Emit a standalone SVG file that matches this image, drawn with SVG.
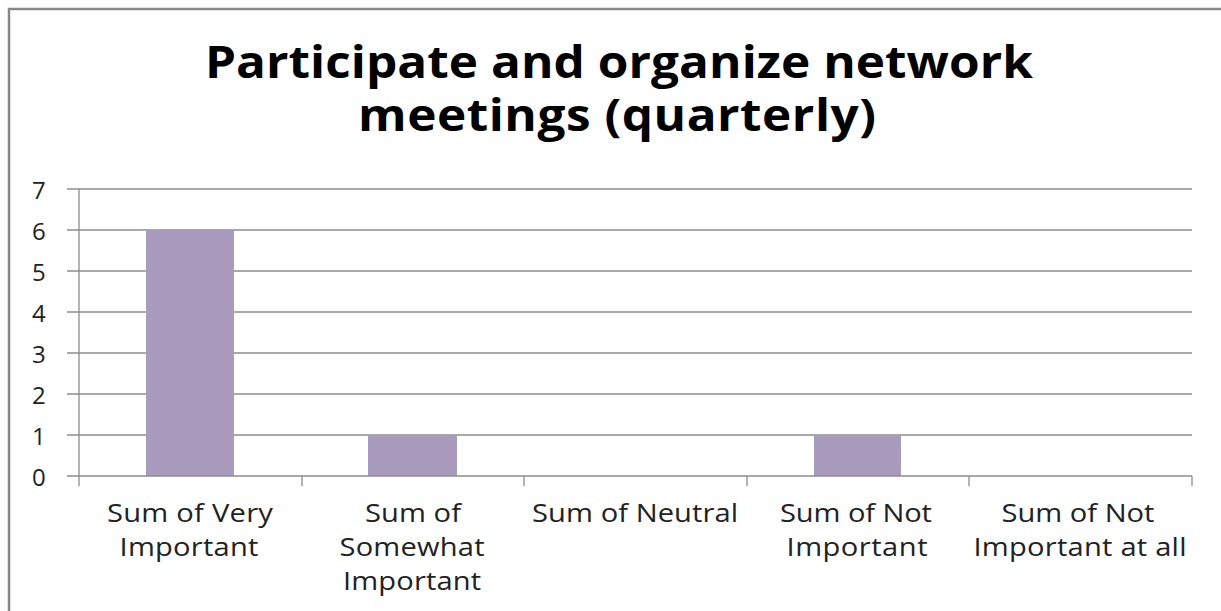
<svg xmlns="http://www.w3.org/2000/svg" width="1221" height="611" viewBox="0 0 1221 611">
<style>
.title{font-family:"Open Sans","Liberation Sans",sans-serif;font-weight:bold;font-size:45px;fill:#000;text-anchor:middle}
.ax{font-family:"Open Sans","Liberation Sans",sans-serif;font-size:24px;fill:#222}
.cat{font-family:"Open Sans","Liberation Sans",sans-serif;font-size:26px;fill:#222;text-anchor:middle}
.grid{stroke:#8c8c8c;stroke-width:1.3}
.bar{fill:#A99BBE}
</style>
<rect x="0" y="0" width="1221" height="611" fill="#fff"/>
<path d="M9,612 V9 H1222" fill="none" stroke="#888" stroke-width="2.5"/>
<g id="title" transform="scale(1.1,1)">
<text class="title"><tspan x="562.7" y="78" textLength="752.7" lengthAdjust="spacing">Participate and organize network</tspan><tspan x="560.9" y="131" textLength="470.9" lengthAdjust="spacing">meetings (quarterly)</tspan></text>
</g>
<g id="grid">
<line class="grid" x1="67" y1="189" x2="1192" y2="189"/>
<line class="grid" x1="67" y1="230" x2="1192" y2="230"/>
<line class="grid" x1="67" y1="271" x2="1192" y2="271"/>
<line class="grid" x1="67" y1="312" x2="1192" y2="312"/>
<line class="grid" x1="67" y1="353" x2="1192" y2="353"/>
<line class="grid" x1="67" y1="394" x2="1192" y2="394"/>
<line class="grid" x1="67" y1="435" x2="1192" y2="435"/>
</g>
<g id="bars">
<rect class="bar" x="146" y="230" width="88" height="246"/>
<rect class="bar" x="368" y="435" width="89" height="41"/>
<rect class="bar" x="814" y="435" width="87" height="41"/>
</g>
<g id="axes">
<line class="grid" x1="79" y1="189" x2="79" y2="486"/>
<line class="grid" x1="67" y1="476" x2="1192" y2="476"/>
<line class="grid" x1="302" y1="476" x2="302" y2="486"/>
<line class="grid" x1="524" y1="476" x2="524" y2="486"/>
<line class="grid" x1="747" y1="476" x2="747" y2="486"/>
<line class="grid" x1="969" y1="476" x2="969" y2="486"/>
<line class="grid" x1="1192" y1="476" x2="1192" y2="486"/>
</g>
<g id="ylabels" class="ax">
<text x="32" y="199">7</text>
<text x="32" y="240">6</text>
<text x="32" y="281">5</text>
<text x="32" y="322">4</text>
<text x="32" y="363">3</text>
<text x="32" y="404">2</text>
<text x="32" y="445">1</text>
<text x="32" y="486">0</text>
</g>
<g id="xlabels" transform="scale(1.12,1)">
<text class="cat" x="169.6" y="522" textLength="148.2">Sum of Very</text>
<text class="cat" x="168.75" y="556" textLength="124.1">Important</text>
<text class="cat" x="368.75" y="522" textLength="85.7">Sum of</text>
<text class="cat" x="367.9" y="556" textLength="129.5">Somewhat</text>
<text class="cat" x="367.9" y="590" textLength="123.2">Important</text>
<text class="cat" x="567" y="522" textLength="183.9">Sum of Neutral</text>
<text class="cat" x="764.3" y="522" textLength="135.7">Sum of Not</text>
<text class="cat" x="765.2" y="556" textLength="125.9">Important</text>
<text class="cat" x="962.5" y="522" textLength="136.6">Sum of Not</text>
<text class="cat" x="964.3" y="556" textLength="190.2">Important at all</text>
</g>
</svg>
